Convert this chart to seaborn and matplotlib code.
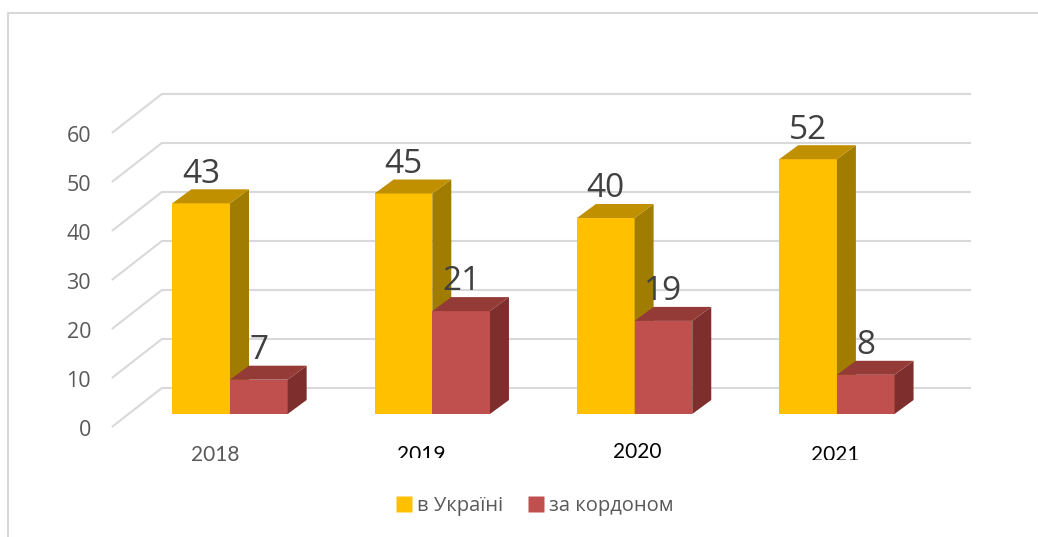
import matplotlib
matplotlib.use("Agg")
import matplotlib.pyplot as plt
from matplotlib.patches import Polygon
from matplotlib.lines import Line2D
from matplotlib.transforms import Bbox, IdentityTransform
import seaborn as sns
import pandas as pd

# ---- data ----
years = ["2018", "2019", "2020", "2021"]
series = ["в Україні", "за кордоном"]
in_ukraine = [43, 45, 40, 52]
abroad = [7, 21, 19, 8]
y_ticks = [0, 10, 20, 30, 40, 50, 60]

# ---- style ----
front_colors = {"в Україні": "#FFC000", "за кордоном": "#C0504D"}
top_colors = {"в Україні": "#C09000", "за кордоном": "#943A37"}
side_colors = {"в Україні": "#A07C00", "за кордоном": "#7E2F2D"}
grid_color = "#D9D9D9"
text_grey = "#595959"
label_grey = "#404040"

# pixel geometry of the pseudo-3D box (figure is 1038x537 px at 100 dpi)
W, H = 1038, 537
px_per_cat = 202.3
px_per_unit = 4.9
x0_px, y0_px = 230, 414            # category 0 / value 0 on the bars' front plane

def dxu(px):
    return px / px_per_cat

def dyu(px):
    return px / px_per_unit

bar_depth = (dxu(19), dyu(14))
back_wall = (dxu(33), dyu(26))
front_edge = (dxu(-17), dyu(-13))

df = pd.DataFrame({
    "year": years * 2,
    "series": [series[0]] * len(years) + [series[1]] * len(years),
    "value": in_ukraine + abroad,
})

fig = plt.figure(figsize=(W / 100, H / 100), dpi=100)
ax = fig.add_axes([0, 0, 1, 1])

sns.barplot(data=df, x="year", y="value", hue="series", hue_order=series,
            palette=front_colors, saturation=1, width=0.57, errorbar=None,
            linewidth=0, legend=False, ax=ax)

ax.set_xlim(-x0_px / px_per_cat, (W - x0_px) / px_per_cat)
ax.set_ylim((y0_px - H) / px_per_unit, y0_px / px_per_unit)
ax.axis("off")

# ---- floor/back-wall gridlines ----
x_left, x_right = -0.5, 3.5
for v in y_ticks:
    ax.plot([x_left + front_edge[0], x_left + back_wall[0], x_right + back_wall[0]],
            [v + front_edge[1], v + back_wall[1], v + back_wall[1]],
            color=grid_color, lw=1.5, zorder=1, solid_capstyle="butt")
    ax.annotate(str(v), (x_left + front_edge[0], v + front_edge[1]),
                xytext=(-15, -2.5), textcoords="offset points",
                ha="right", va="center", fontsize=15.5, color=text_grey,
                family="Open Sans")

# ---- extrude the bars into boxes ----
bars = list(ax.patches)
names = df["series"].tolist()
values = df["value"].tolist()
for bar, name, val in zip(bars, names, values):
    z = 3 + series.index(name)
    bar.set_zorder(z)
    x = bar.get_x()
    w = bar.get_width()
    h = bar.get_height()
    ddx, ddy = bar_depth
    side = Polygon([(x + w, 0), (x + w + ddx, ddy), (x + w + ddx, h + ddy), (x + w, h)],
                   closed=True, facecolor=side_colors[name], edgecolor="none", zorder=z)
    top = Polygon([(x, h), (x + ddx, h + ddy), (x + w + ddx, h + ddy), (x + w, h)],
                  closed=True, facecolor=top_colors[name], edgecolor="none", zorder=z)
    ax.add_patch(side)
    ax.add_patch(top)
    ax.annotate(str(val), (x + w / 2, h + ddy), xytext=(0, -1),
                textcoords="offset points", ha="center", va="bottom",
                fontsize=24, color=label_grey, family="Open Sans", zorder=10)

# ---- category labels ----
cat_nudge_px = [-15, -11, 3, -2]
cat_top_px = [448, 448, 445, 448]
cat_colors = [text_grey, "black", "black", "black"]
cat_clip_px = [None, 458, None, 460]
for i, yr in enumerate(years):
    xd = ax.transData.transform((i, 0))[0] + cat_nudge_px[i]
    t = ax.text(xd, H - cat_top_px[i] + 3, yr, transform=IdentityTransform(),
                ha="center", va="top", fontsize=15, color=cat_colors[i],
                family="Lato")
    if cat_clip_px[i] is not None:
        t.set_clip_on(True)
        t.set_clip_box(Bbox([[0, H - cat_clip_px[i]], [W, H]]))

# ---- legend ----
handles = [Line2D([0], [0], marker="s", linestyle="none", markersize=11,
                  markerfacecolor=front_colors[s], markeredgecolor="none")
           for s in series]
fig.legend(handles, series, loc="center", bbox_to_anchor=(535 / W, 1 - 506 / H),
           ncol=2, frameon=False, labelcolor=text_grey,
           handlelength=0.7, handletextpad=0.3, columnspacing=1.3,
           prop={"family": "Open Sans", "size": 14.5})

# ---- outer frame ----
fig.add_artist(Line2D([8 / W, 8 / W, 1], [0, 1 - 13 / H, 1 - 13 / H],
                      transform=fig.transFigure, color=grid_color, lw=1.5))

fig.savefig("out.png", dpi=100)
